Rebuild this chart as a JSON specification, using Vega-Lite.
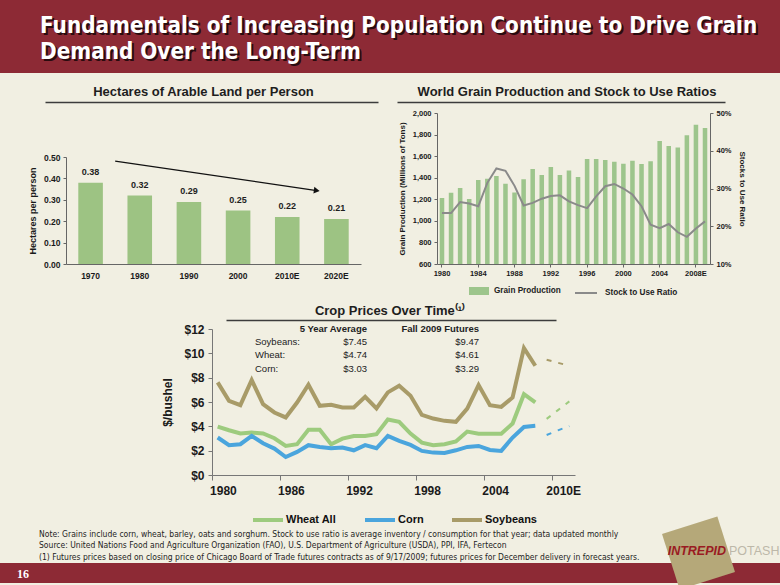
{
  "$schema": "https://vega.github.io/schema/vega-lite/v6.json",
  "background": "#f1efe2",
  "padding": 0,
  "spacing": 0,
  "resolve": {"scale": {"color": "independent", "stroke": "independent"}, "legend": {"color": "independent", "stroke": "independent"}},
  "config": {
    "view": {"stroke": null},
    "font": "Liberation Sans",
    "axis": {"grid": false, "domainColor": "#666666", "tickColor": "#666666", "labelColor": "#1a1a1a", "titleColor": "#1a1a1a", "labelFontWeight": "bold", "titleFontWeight": "bold"},
    "legend": {"layout": {"bottom": {"anchor": "middle", "direction": "horizontal", "margin": 13}}}
  },
  "vconcat": [
    {
      "width": 780, "height": 73,
      "view": {"fill": "#8d2a35", "stroke": null},
      "data": {"values": [
        {"line": 1, "t": "Fundamentals of Increasing Population Continue to Drive Grain"},
        {"line": 2, "t": "Demand Over the Long-Term"}
      ]},
      "encoding": {
        "y": {"field": "line", "type": "ordinal", "scale": {"padding": 0.9}, "axis": null},
        "text": {"field": "t"}
      },
      "layer": [
        {"mark": {"type": "text", "align": "left", "baseline": "middle", "dx": -348, "dy": 4.5, "font": "DejaVu Sans Condensed, Liberation Sans", "fontWeight": "bold", "fontSize": 22.3, "color": "#2a0b0f"}},
        {"mark": {"type": "text", "align": "left", "baseline": "middle", "dx": -350, "dy": 2.5, "font": "DejaVu Sans Condensed, Liberation Sans", "fontWeight": "bold", "fontSize": 22.3, "color": "#ffffff"}}
      ]
    },
    {
      "spacing": 19,
      "hconcat": [
        {"width": 26, "height": 36, "data": {"values": [{}]}, "mark": {"type": "rect", "opacity": 0}},
        {
          "width": 333, "height": 29,
          "data": {"values": [{"t": "Hectares of Arable Land per Person"}]},
          "mark": {"type": "text", "fontSize": 13, "fontWeight": "bold", "color": "#1e1e1e", "dx": -8, "dy": 4},
          "encoding": {
            "x": {"field": "t", "type": "nominal", "axis": {"title": null, "labels": false, "ticks": false, "domainColor": "#3c3c3c", "domainWidth": 1.5}},
            "text": {"field": "t"}
          }
        },
        {
          "width": 328, "height": 29,
          "data": {"values": [{"t": "World Grain Production and Stock to Use Ratios"}]},
          "mark": {"type": "text", "fontSize": 13, "fontWeight": "bold", "color": "#1e1e1e", "dx": 6, "dy": 4},
          "encoding": {
            "x": {"field": "t", "type": "nominal", "axis": {"title": null, "labels": false, "ticks": false, "domainColor": "#3c3c3c", "domainWidth": 1.5}},
            "text": {"field": "t"}
          }
        }
      ]
    },
    {
      "spacing": 0,
      "resolve": {"scale": {"color": "independent", "stroke": "independent"}, "legend": {"color": "independent", "stroke": "independent"}},
      "hconcat": [
        {"width": 27.5, "height": 1, "data": {"values": [{}]}, "mark": {"type": "rect", "opacity": 0}},
        {
          "spacing": 0,
          "vconcat": [
            {"width": 1, "height": 40, "data": {"values": [{}]}, "mark": {"type": "rect", "opacity": 0}},
            {
              "width": 295, "height": 107,
              "layer": [
                {
                  "data": {"values": [
                    {"decade": "1970", "ha": 0.38},
                    {"decade": "1980", "ha": 0.32},
                    {"decade": "1990", "ha": 0.29},
                    {"decade": "2000", "ha": 0.25},
                    {"decade": "2010E", "ha": 0.22},
                    {"decade": "2020E", "ha": 0.21}
                  ]},
                  "encoding": {
                    "x": {"field": "decade", "type": "ordinal", "sort": null, "scale": {"paddingInner": 0.5, "paddingOuter": 0.25}, "axis": {"title": null, "labelAngle": 0, "ticks": false, "labelPadding": 7, "labelFontSize": 8.5}},
                    "y": {"field": "ha", "type": "quantitative", "scale": {"domain": [0, 0.5], "nice": false}, "axis": {"title": "Hectares per person", "values": [0, 0.1, 0.2, 0.3, 0.4, 0.5], "format": ".2f", "labelFontSize": 8.5, "tickSize": 3, "labelPadding": 3, "titlePadding": 6, "titleFontSize": 9}}
                  },
                  "layer": [
                    {"mark": {"type": "bar", "color": "#9dc383"}},
                    {"mark": {"type": "text", "dy": -11, "fontWeight": "bold", "fontSize": 9, "color": "#1e1e1e"}, "encoding": {"text": {"field": "ha", "format": ".2f"}}}
                  ]
                },
                {
                  "data": {"values": [{"from_year": 1975, "to_year": 2016, "from_v": 0.481, "to_v": 0.343}]},
                  "layer": [
                    {"mark": {"type": "rule", "color": "#111111", "strokeWidth": 1.2},
                     "encoding": {
                       "x": {"field": "from_year", "type": "quantitative", "scale": {"domain": [1965, 2025], "nice": false, "zero": false}, "axis": null},
                       "x2": {"field": "to_year"},
                       "y": {"field": "from_v", "type": "quantitative", "scale": {"domain": [0, 0.5], "nice": false}, "axis": null},
                       "y2": {"field": "to_v"}
                     }},
                    {"mark": {"type": "point", "shape": "triangle-right", "filled": true, "color": "#111111", "size": 45, "angle": 8, "opacity": 1},
                     "encoding": {
                       "x": {"field": "to_year", "type": "quantitative", "scale": {"domain": [1965, 2025], "nice": false, "zero": false}, "axis": null},
                       "y": {"field": "to_v", "type": "quantitative", "scale": {"domain": [0, 0.5], "nice": false}, "axis": null}
                     }}
                  ]
                }
              ],
              "resolve": {"scale": {"x": "independent", "y": "independent"}}
            }
          ]
        },
        {"width": 37, "height": 1, "data": {"values": [{}]}, "mark": {"type": "rect", "opacity": 0}},
        {
          "width": 273, "height": 151,
          "data": {"values": [
            {"year": 1980, "prod": 1212, "ratio": 0.235},
            {"year": 1981, "prod": 1261, "ratio": 0.235},
            {"year": 1982, "prod": 1305, "ratio": 0.264},
            {"year": 1983, "prod": 1203, "ratio": 0.260},
            {"year": 1984, "prod": 1379, "ratio": 0.253},
            {"year": 1985, "prod": 1391, "ratio": 0.315},
            {"year": 1986, "prod": 1416, "ratio": 0.353},
            {"year": 1987, "prod": 1345, "ratio": 0.347},
            {"year": 1988, "prod": 1264, "ratio": 0.307},
            {"year": 1989, "prod": 1385, "ratio": 0.255},
            {"year": 1990, "prod": 1481, "ratio": 0.262},
            {"year": 1991, "prod": 1425, "ratio": 0.273},
            {"year": 1992, "prod": 1499, "ratio": 0.280},
            {"year": 1993, "prod": 1425, "ratio": 0.282},
            {"year": 1994, "prod": 1468, "ratio": 0.266},
            {"year": 1995, "prod": 1407, "ratio": 0.256},
            {"year": 1996, "prod": 1573, "ratio": 0.248},
            {"year": 1997, "prod": 1573, "ratio": 0.279},
            {"year": 1998, "prod": 1564, "ratio": 0.306},
            {"year": 1999, "prod": 1549, "ratio": 0.312},
            {"year": 2000, "prod": 1530, "ratio": 0.300},
            {"year": 2001, "prod": 1558, "ratio": 0.284},
            {"year": 2002, "prod": 1527, "ratio": 0.253},
            {"year": 2003, "prod": 1552, "ratio": 0.204},
            {"year": 2004, "prod": 1740, "ratio": 0.195},
            {"year": 2005, "prod": 1694, "ratio": 0.206},
            {"year": 2006, "prod": 1679, "ratio": 0.184},
            {"year": 2007, "prod": 1793, "ratio": 0.172},
            {"year": 2008, "prod": 1892, "ratio": 0.194},
            {"year": 2009, "prod": 1861, "ratio": 0.213}
          ]},
          "encoding": {
            "x": {"field": "year", "type": "ordinal", "scale": {"type": "band", "paddingInner": 0.5, "paddingOuter": 0.3}, "axis": {"title": null, "values": [1980, 1984, 1988, 1992, 1996, 2000, 2004, 2008], "labelExpr": "datum.value == 2008 ? '2008E' : datum.label", "labelAngle": 0, "labelFontSize": 7.5, "tickSize": 3, "labelPadding": 2}}
          },
          "layer": [
            {"mark": {"type": "bar", "clip": true},
             "encoding": {
               "y": {"field": "prod", "type": "quantitative", "scale": {"domain": [600, 2000], "zero": false, "nice": false}, "axis": {"title": "Grain Production (Millions of Tons)", "values": [600, 800, 1000, 1200, 1400, 1600, 1800, 2000], "format": ",.0f", "labelFontSize": 7.5, "titleFontSize": 8, "tickSize": 3, "labelPadding": 3, "titlePadding": 6}},
               "color": {"datum": "Grain Production", "scale": {"domain": ["Grain Production"], "range": ["#9dc58c"]}, "legend": {"title": null, "orient": "bottom", "direction": "horizontal", "symbolType": "M-1,-0.4H1V0.4H-1Z", "symbolSize": 400, "symbolStrokeWidth": 0, "labelFontSize": 8.2, "labelFontWeight": "bold", "labelColor": "#222222", "labelOffset": 5, "offset": 4}}
             }},
            {"mark": {"type": "line", "strokeWidth": 2},
             "encoding": {
               "y": {"field": "ratio", "type": "quantitative", "scale": {"domain": [0.1, 0.5], "nice": false, "zero": false}, "axis": {"orient": "right", "title": "Stocks to Use Ratio", "values": [0.1, 0.2, 0.3, 0.4, 0.5], "format": ".0%", "labelFontSize": 7.5, "titleFontSize": 8, "tickSize": 3, "labelPadding": 3, "titlePadding": 6}},
               "stroke": {"datum": "Stock to Use Ratio", "scale": {"domain": ["Stock to Use Ratio"], "range": ["#8a8a8a"]}, "legend": {"title": null, "orient": "bottom", "direction": "horizontal", "symbolType": "stroke", "symbolSize": 484, "symbolStrokeWidth": 2, "labelFontSize": 8.2, "labelFontWeight": "bold", "labelColor": "#222222", "labelOffset": 7, "offset": 4}}
             }}
          ],
          "resolve": {"scale": {"y": "independent"}}
        }
      ]
    },
    {
      "spacing": 0,
      "hconcat": [
        {"width": 226, "height": 26, "data": {"values": [{}]}, "mark": {"type": "rect", "opacity": 0}},
        {
          "width": 330, "height": 23,
          "data": {"values": [{"t": "Crop Prices Over Time⁽¹⁾"}]},
          "mark": {"type": "text", "fontSize": 13, "fontWeight": "bold", "color": "#1e1e1e", "dx": -1, "dy": 2.5},
          "encoding": {
            "x": {"field": "t", "type": "nominal", "axis": {"title": null, "labels": false, "ticks": false, "domainColor": "#3c3c3c", "domainWidth": 1.5}},
            "text": {"field": "t"}
          }
        }
      ]
    },
    {
      "spacing": -60,
      "resolve": {"scale": {"color": "independent"}, "legend": {"color": "independent"}},
      "vconcat": [
        {
          "spacing": 0,
          "title": {
            "text": [
              "Note: Grains include corn, wheat, barley, oats and sorghum. Stock to use ratio is average inventory / consumption for that year; data updated monthly",
              "Source: United Nations Food and Agriculture Organization (FAO), U.S. Department of Agriculture (USDA), PPI, IFA, Fertecon",
              "(1) Futures prices based on closing price of Chicago Board of Trade futures contracts as of 9/17/2009; futures prices for December delivery in forecast years."
            ],
            "orient": "bottom", "anchor": "start", "dx": 39, "fontSize": 8.5, "fontWeight": "normal", "color": "#1e1e1e", "lineHeight": 11.3, "offset": 2, "font": "DejaVu Sans Condensed, Liberation Sans"
          },
          "resolve": {"scale": {"color": "independent"}, "legend": {"color": "independent"}},
          "hconcat": [
            {"width": 161, "height": 1, "data": {"values": [{}]}, "mark": {"type": "rect", "opacity": 0}},
            {
              "width": 363, "height": 146,
              "layer": [
                {
                  "encoding": {
                    "x": {"field": "year", "type": "ordinal", "bandPosition": 0.5, "scale": {"type": "band", "domain": [1980, 1981, 1982, 1983, 1984, 1985, 1986, 1987, 1988, 1989, 1990, 1991, 1992, 1993, 1994, 1995, 1996, 1997, 1998, 1999, 2000, 2001, 2002, 2003, 2004, 2005, 2006, 2007, 2008, 2009, 2010, 2011], "paddingInner": 0, "paddingOuter": 0}, "axis": {"title": null, "values": [1980, 1986, 1992, 1998, 2004, 2010], "labelExpr": "datum.value == 2010 ? '2010E' : datum.label", "bandPosition": 0, "labelOffset": 5.7, "labelAngle": 0, "tickSize": 5, "labelFontSize": 12, "labelPadding": 5, "domainColor": "#777777", "tickColor": "#777777"}},
                    "y": {"field": "price", "type": "quantitative", "scale": {"domain": [0, 12], "nice": false}, "axis": {"title": "$/bushel", "values": [0, 2, 4, 6, 8, 10, 12], "labelExpr": "'$' + datum.value", "labelFontSize": 12, "tickSize": 4, "labelPadding": 4, "titlePadding": 9, "titleFontSize": 12, "domainColor": "#777777", "tickColor": "#777777"}},
                    "color": {"field": "crop", "type": "nominal", "scale": {"domain": ["Wheat All", "Corn", "Soybeans"], "range": ["#9dcb7e", "#4aa5dd", "#a89b68"]}, "legend": {"title": null, "orient": "bottom", "direction": "horizontal", "symbolType": "stroke", "symbolSize": 900, "symbolStrokeWidth": 4, "labelFontSize": 11, "labelFontWeight": "bold", "labelColor": "#111111", "columnPadding": 20, "labelOffset": 1, "offset": 7}}
                  },
                  "layer": [
                    {
                      "data": {"values": [
                        {"year": 1980, "Wheat All": 3.98, "Corn": 3.08, "Soybeans": 7.61},
                        {"year": 1981, "Wheat All": 3.68, "Corn": 2.45, "Soybeans": 6.10},
                        {"year": 1982, "Wheat All": 3.41, "Corn": 2.53, "Soybeans": 5.74},
                        {"year": 1983, "Wheat All": 3.49, "Corn": 3.21, "Soybeans": 7.80},
                        {"year": 1984, "Wheat All": 3.41, "Corn": 2.61, "Soybeans": 5.82},
                        {"year": 1985, "Wheat All": 3.02, "Corn": 2.17, "Soybeans": 5.14},
                        {"year": 1986, "Wheat All": 2.39, "Corn": 1.48, "Soybeans": 4.73},
                        {"year": 1987, "Wheat All": 2.53, "Corn": 1.90, "Soybeans": 5.96},
                        {"year": 1988, "Wheat All": 3.71, "Corn": 2.45, "Soybeans": 7.42},
                        {"year": 1989, "Wheat All": 3.71, "Corn": 2.31, "Soybeans": 5.69},
                        {"year": 1990, "Wheat All": 2.53, "Corn": 2.20, "Soybeans": 5.77},
                        {"year": 1991, "Wheat All": 2.99, "Corn": 2.25, "Soybeans": 5.55},
                        {"year": 1992, "Wheat All": 3.21, "Corn": 2.03, "Soybeans": 5.55},
                        {"year": 1993, "Wheat All": 3.21, "Corn": 2.45, "Soybeans": 6.43},
                        {"year": 1994, "Wheat All": 3.35, "Corn": 2.20, "Soybeans": 5.47},
                        {"year": 1995, "Wheat All": 4.56, "Corn": 3.21, "Soybeans": 6.79},
                        {"year": 1996, "Wheat All": 4.37, "Corn": 2.80, "Soybeans": 7.33},
                        {"year": 1997, "Wheat All": 3.40, "Corn": 2.47, "Soybeans": 6.51},
                        {"year": 1998, "Wheat All": 2.66, "Corn": 1.98, "Soybeans": 4.94},
                        {"year": 1999, "Wheat All": 2.44, "Corn": 1.84, "Soybeans": 4.64},
                        {"year": 2000, "Wheat All": 2.53, "Corn": 1.81, "Soybeans": 4.45},
                        {"year": 2001, "Wheat All": 2.75, "Corn": 2.03, "Soybeans": 4.37},
                        {"year": 2002, "Wheat All": 3.57, "Corn": 2.31, "Soybeans": 5.46},
                        {"year": 2003, "Wheat All": 3.40, "Corn": 2.39, "Soybeans": 7.39},
                        {"year": 2004, "Wheat All": 3.40, "Corn": 2.06, "Soybeans": 5.74},
                        {"year": 2005, "Wheat All": 3.40, "Corn": 1.98, "Soybeans": 5.60},
                        {"year": 2006, "Wheat All": 4.23, "Corn": 3.08, "Soybeans": 6.37},
                        {"year": 2007, "Wheat All": 6.64, "Corn": 3.95, "Soybeans": 10.43},
                        {"year": 2008, "Wheat All": 5.96, "Corn": 4.04, "Soybeans": 8.98}
                      ]},
                      "transform": [{"fold": ["Wheat All", "Corn", "Soybeans"], "as": ["crop", "price"]}],
                      "mark": {"type": "line", "strokeWidth": 4}
                    },
                    {
                      "data": {"values": [
                        {"year": 2009, "Wheat All": 4.61, "Corn": 3.29, "Soybeans": 9.47},
                        {"year": 2010, "Wheat All": 5.33, "Corn": 3.67, "Soybeans": 9.22},
                        {"year": 2011, "Wheat All": 6.05, "Corn": 4.02, "Soybeans": 8.98}
                      ]},
                      "transform": [{"fold": ["Wheat All", "Corn", "Soybeans"], "as": ["crop", "price"]}],
                      "mark": {"type": "line", "strokeWidth": 2, "strokeDash": [5, 7]}
                    }
                  ]
                },
                {
                  "data": {"values": [
                    {"row": "hdr", "col": "avg", "txt": "5 Year Average"},
                    {"row": "hdr", "col": "fut", "txt": "Fall 2009 Futures"},
                    {"row": "Soybeans", "col": "label", "txt": "Soybeans:"},
                    {"row": "Soybeans", "col": "avg", "txt": "$7.45"},
                    {"row": "Soybeans", "col": "fut", "txt": "$9.47"},
                    {"row": "Wheat", "col": "label", "txt": "Wheat:"},
                    {"row": "Wheat", "col": "avg", "txt": "$4.74"},
                    {"row": "Wheat", "col": "fut", "txt": "$4.61"},
                    {"row": "Corn", "col": "label", "txt": "Corn:"},
                    {"row": "Corn", "col": "avg", "txt": "$3.03"},
                    {"row": "Corn", "col": "fut", "txt": "$3.29"}
                  ]},
                  "encoding": {
                    "x": {"field": "col", "type": "nominal", "scale": {"type": "point", "domain": ["label", "avg", "fut"], "range": [43, 267], "padding": 0}, "axis": null},
                    "y": {"field": "row", "type": "nominal", "scale": {"type": "point", "domain": ["hdr", "Soybeans", "Wheat", "Corn"], "range": [0, 39.5], "padding": 0}, "axis": null},
                    "text": {"field": "txt"}
                  },
                  "layer": [
                    {"transform": [{"filter": "datum.col == 'label'"}], "mark": {"type": "text", "align": "left", "fontSize": 9.5, "color": "#222222"}},
                    {"transform": [{"filter": "datum.col != 'label' && datum.row != 'hdr'"}], "mark": {"type": "text", "align": "right", "fontSize": 9.5, "color": "#222222"}},
                    {"transform": [{"filter": "datum.row == 'hdr'"}], "mark": {"type": "text", "align": "right", "fontSize": 9.5, "fontWeight": "bold", "color": "#222222"}}
                  ]
                }
              ],
              "resolve": {"scale": {"x": "independent", "y": "independent"}}
            }
          ]
        },
        {
          "width": 780, "height": 20,
          "view": {"fill": "#8d2a35", "stroke": null},
          "data": {"values": [{"page": "16", "b1": "INTREPID", "b2": "POTASH", "sq": "■"}]},
          "layer": [
            {"mark": {"type": "text", "align": "center", "baseline": "middle", "dx": -367, "dy": 1, "font": "Liberation Serif", "fontWeight": "bold", "fontSize": 12, "color": "#ffffff"}, "encoding": {"text": {"field": "page"}}},
            {"mark": {"type": "text", "align": "center", "baseline": "middle", "dx": 300, "dy": 71.1, "font": "DejaVu Sans", "fontSize": 76, "angle": -17.6, "color": "#b5a879"}, "encoding": {"text": {"field": "sq"}}},
            {"mark": {"type": "text", "align": "left", "baseline": "middle", "dx": 277.7, "dy": -21.7, "fontStyle": "italic", "fontWeight": "bold", "fontSize": 12.5, "color": "#9a1b22"}, "encoding": {"text": {"field": "b1"}}},
            {"mark": {"type": "text", "align": "left", "baseline": "middle", "dx": 339, "dy": -21.7, "fontSize": 12.5, "color": "#bdb8a9"}, "encoding": {"text": {"field": "b2"}}}
          ]
        }
      ]
    }
  ]
}
